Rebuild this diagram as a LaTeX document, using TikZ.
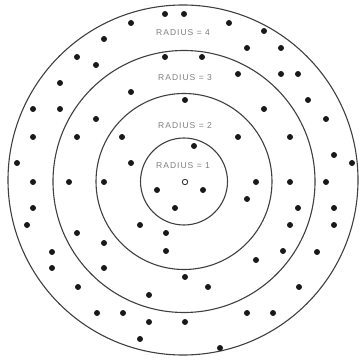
\documentclass[tikz,border=0pt]{standalone}
\usepackage{fontspec}
\newfontfamily\labelfont[LetterSpace=12]{Liberation Sans}
\begin{document}
\begin{tikzpicture}[x=1pt,y=-1pt,
  ring/.style={draw=black!75,line width=1.1pt},
  dotmark/.style={fill=black!90},
  radlabel/.style={font=\labelfont\fontsize{8.5}{10}\selectfont,text=black!50,inner sep=0pt}]
\useasboundingbox (0,0) rectangle (360,363);
\fill[white] (0,0) rectangle (360,363);
\coordinate (c) at (184,181.5);
\draw[ring] (c) circle[radius=43.5];
\draw[ring] (c) circle[radius=88];
\draw[ring] (c) circle[radius=131];
\draw[ring] (183,180) circle[radius=175];
\draw[black!80,line width=0.9pt] (185,182) circle[radius=2.7];
\foreach \p in {(165,14),(184,14),(131,23),(229,23),(264,31),(104,39),(247,48),(281,48),
  (77,57),(96,65),(165,57),(202,57),(238,74),(281,74),(298,74),(60,83),(131,92),(185,100),
  (308,100),(33,109),(60,109),(264,109),(96,119),(326,119),(33,137),(77,137),(122,137),
  (238,137),(290,137),(194,146),(334,155),(17,163),(131,163),(352,163),(33,182),(69,182),
  (104,182),(256,182),(290,182),(326,182),(157,190),(203,190),(247,199),(33,208),(175,208),
  (298,208),(334,208),(27,225),(140,225),(290,225),(334,225),(77,233),(166,233),(104,243),
  (166,251),(52,252),(283,251),(317,252),(256,260),(52,268),(104,268),(185,277),(78,287),
  (208,287),(299,287),(149,295),(97,313),(123,313),(149,322),(185,322),(247,313),(273,313),
  (140,339),(220,348)}
  \fill[dotmark] \p circle[radius=3];
\node[radlabel] (r4) at (183,33) {RADIUS = 4};
\node[radlabel] (r3) at (185,78) {RADIUS = 3};
\node[radlabel] (r2) at (185,126) {RADIUS = 2};
\node[radlabel] (r1) at (183,166) {RADIUS = 1};
\end{tikzpicture}
\end{document}
